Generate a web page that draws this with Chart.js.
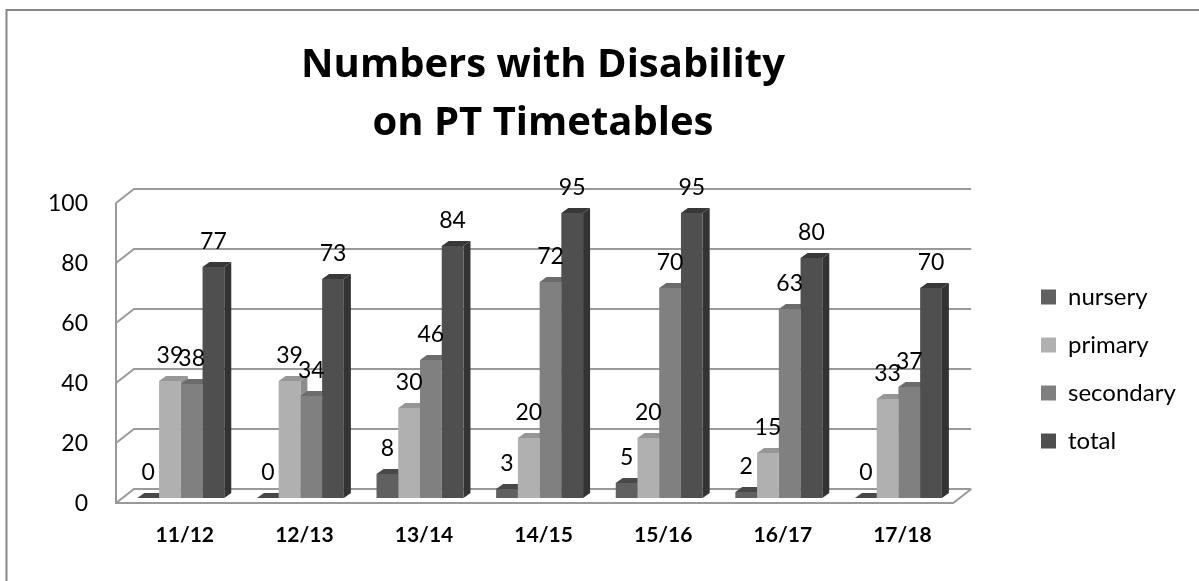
<!DOCTYPE html>
<html>
<head>
<meta charset="utf-8">
<style>
  html, body { margin: 0; padding: 0; background: #fff; }
  #wrap { width: 1199px; height: 581px; }
</style>
<script src="https://cdn.jsdelivr.net/npm/chart.js@4"></script>
</head>
<body>
<div id="wrap"><canvas id="chart" width="1199" height="581"></canvas></div>
<script>
const categories = ['11/12', '12/13', '13/14', '14/15', '15/16', '16/17', '17/18'];
const nursery = [0, 0, 8, 3, 5, 2, 0];
const primary = [39, 39, 30, 20, 20, 15, 33];
const secondary = [38, 34, 46, 72, 70, 63, 37];
const total = [77, 73, 84, 95, 95, 80, 70];
const yTicks = [0, 20, 40, 60, 80, 100];

const FONT = 'Lato, Carlito, sans-serif';
const faces = {
  nursery: { front: '#606060', top: '#484848', side: '#404040' },
  primary: { front: '#b0b0b0', top: '#969696', side: '#8c8c8c' },
  secondary: { front: '#808080', top: '#6c6c6c', side: '#606060' },
  total: { front: '#4f4f4f', top: '#383838', side: '#333333' }
};
const seriesFaces = [faces.nursery, faces.primary, faces.secondary, faces.total];

// depth of the bars and of the floor/walls, px
const barDepth = { x: 7, y: 5 };
const wallDepth = { x: 18, y: 14 };
const wallLine = '#999999';

function polygon(ctx, points, fill) {
  ctx.beginPath();
  points.forEach((p, i) => (i ? ctx.lineTo(p[0], p[1]) : ctx.moveTo(p[0], p[1])));
  ctx.closePath();
  ctx.fillStyle = fill;
  ctx.fill();
}

const frame3d = {
  id: 'frame3d',
  afterLayout(chart) {
    // the plot sits left of centre, title and legend do not follow it
    chart.titleBlock.left = 0;
    chart.titleBlock.right = 1086;
    chart.legend.left = 1041 - chart.options.plugins.legend.labels.padding;
    chart.legend.right = 1199;
    chart.legend.top = 261;
    chart.legend.bottom = 500;
  },
  beforeDraw(chart) {
    // only the top and left edges of the outer frame are in the picture
    const { ctx } = chart;
    ctx.save();
    ctx.strokeStyle = '#868686';
    ctx.lineWidth = 2;
    ctx.beginPath();
    ctx.moveTo(6.5, 581);
    ctx.lineTo(6.5, 10);
    ctx.lineTo(1199, 10);
    ctx.stroke();
    ctx.restore();
  },
  beforeDatasetsDraw(chart) {
    const { ctx, scales: { y }, chartArea } = chart;
    const left = chartArea.left - 5;
    const right = chartArea.right - 5;
    const frontOf = v => y.getPixelForValue(v) + 5;

    ctx.save();
    ctx.strokeStyle = wallLine;
    ctx.lineWidth = 2;
    ctx.lineJoin = 'miter';
    yTicks.forEach(v => {
      const fy = frontOf(v);
      ctx.beginPath();
      ctx.moveTo(left, fy);
      ctx.lineTo(left + wallDepth.x, fy - wallDepth.y);
      ctx.lineTo(right + wallDepth.x, fy - wallDepth.y);
      ctx.stroke();
    });
    // left wall edge and front of the floor
    ctx.beginPath();
    ctx.moveTo(left, frontOf(100));
    ctx.lineTo(left, frontOf(0));
    ctx.lineTo(right, frontOf(0));
    ctx.lineTo(right + wallDepth.x, frontOf(0) - wallDepth.y);
    ctx.stroke();

    // side and top faces, fronts are painted over them by the bar elements
    chart.data.datasets.forEach((ds, i) => {
      const colors = seriesFaces[i];
      chart.getDatasetMeta(i).data.forEach(bar => {
        const half = bar.width / 2;
        const l = bar.x - half;
        const r = bar.x + half;
        const top = bar.y;
        const base = bar.base;
        polygon(ctx, [[r, top], [r + barDepth.x, top - barDepth.y], [r + barDepth.x, base - barDepth.y], [r, base]], colors.side);
        polygon(ctx, [[l, top], [r, top], [r + barDepth.x, top - barDepth.y], [l + barDepth.x, top - barDepth.y]], colors.top);
      });
    });
    ctx.restore();
  },
  afterDatasetsDraw(chart) {
    const { ctx } = chart;
    ctx.save();
    ctx.fillStyle = '#000';
    ctx.font = '23px ' + FONT;
    ctx.textAlign = 'center';
    ctx.textBaseline = 'alphabetic';
    chart.data.datasets.forEach((ds, i) => {
      chart.getDatasetMeta(i).data.forEach((bar, j) => {
        ctx.fillText(String(ds.data[j]), bar.x, bar.y - 18);
      });
    });
    ctx.restore();
  }
};

new Chart(document.getElementById('chart'), {
  type: 'bar',
  plugins: [frame3d],
  data: {
    labels: categories,
    datasets: [
      { label: 'nursery', data: nursery, backgroundColor: faces.nursery.front },
      { label: 'primary', data: primary, backgroundColor: faces.primary.front },
      { label: 'secondary', data: secondary, backgroundColor: faces.secondary.front },
      { label: 'total', data: total, backgroundColor: faces.total.front }
    ]
  },
  options: {
    responsive: false,
    animation: false,
    layout: { padding: { left: 0, right: 72, top: 37, bottom: 0 } },
    datasets: { bar: { barPercentage: 1, categoryPercentage: 0.727 } },
    plugins: {
      tooltip: { enabled: false },
      title: {
        display: true,
        text: ['Numbers with Disability', 'on PT Timetables'],
        color: '#000',
        font: { family: '"Open Sans", Lato, sans-serif', size: 40, weight: 'bold', lineHeight: 1.45 },
        padding: { top: 0, bottom: 45 }
      },
      legend: {
        position: 'right',
        align: 'start',
        labels: {
          color: '#000',
          font: { family: FONT, size: 24 },
          boxWidth: 15,
          boxHeight: 15,
          padding: 24
        }
      }
    },
    scales: {
      x: {
        afterFit(axis) { axis.height = 83; },
        grid: { display: false },
        border: { display: false },
        ticks: {
          color: '#000',
          font: { family: FONT, size: 21, weight: 'bold' },
          padding: 17,
          labelOffset: 4,
          maxRotation: 0
        }
      },
      y: {
        min: 0,
        max: 100,
        afterFit(axis) { axis.width = 121; },
        grid: { display: false },
        border: { display: false },
        ticks: {
          color: '#000',
          font: { family: FONT, size: 23 },
          stepSize: 20,
          padding: 25,
          labelOffset: 6
        }
      }
    }
  }
});
</script>
</body>
</html>
